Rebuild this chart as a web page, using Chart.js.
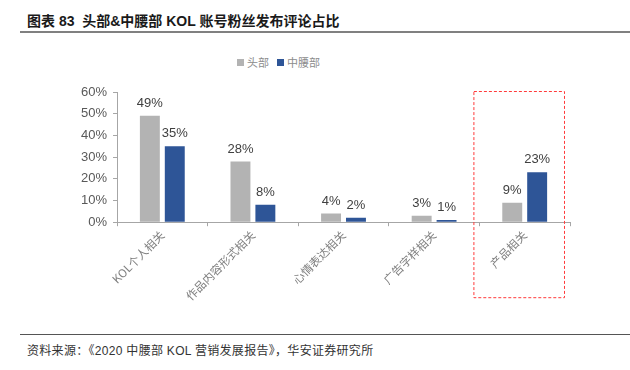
<!DOCTYPE html>
<html>
<head>
<meta charset="utf-8">
<script src="https://cdn.jsdelivr.net/npm/chart.js@4.4.1/dist/chart.umd.min.js"></script>
<style>
  body { margin: 0; background: #fff; font-family: "Liberation Sans", "Noto Sans CJK SC", sans-serif; }
  #page { position: relative; width: 630px; height: 370px; overflow: hidden; }
  #title { position: absolute; left: 27px; top: 10px; font-size: 14px; font-weight: bold; color: #1a1a1a; }
  .rule { position: absolute; left: 20px; width: 610px; background: #808080; }
  #source { position: absolute; left: 27px; top: 341px; font-size: 12px; color: #333; letter-spacing: 0.3px; }
  #legend { position: absolute; left: 237px; top: 54px; font-size: 11px; color: #8c8c8c; font-family: "Noto Sans CJK SC", sans-serif; white-space: nowrap; }
  #legend span.box { display: inline-block; width: 7px; height: 7px; margin-right: 3px; vertical-align: 1px; }
  #legend span.item { margin-right: 8px; }
  #chart-box { position: absolute; left: 0; top: 40px; width: 630px; height: 290px; }
</style>
</head>
<body>
<div id="page">
  <div id="title">图表 83&nbsp; 头部&amp;中腰部 KOL 账号粉丝发布评论占比</div>
  <div class="rule" style="top:31px;height:2px;"></div>
  <div id="legend"></div>
  <div id="chart-box"><canvas id="kol-chart"></canvas></div>
  <div class="rule" style="top:334px;height:1px;background:#555;"></div>
  <div id="source">资料来源：《2020 中腰部 KOL 营销发展报告》，华安证券研究所</div>
</div>
<script>
// Chart data
const categories = ['KOL个人相关', '作品内容形式相关', '心情表达相关', '广告字样相关', '产品相关'];
const headValues = [49, 28, 4, 3, 9];
const midValues = [35, 8, 2, 1, 23];
const seriesNames = ['头部', '中腰部'];
const yTicks = [0, 10, 20, 30, 40, 50, 60];

const GREY = '#b3b3b3';
const BLUE = '#2e5597';
const seriesColors = [GREY, BLUE];

// Legend sits left of centre in the original, so build it as html
document.getElementById('legend').innerHTML = seriesNames.map((name, i) =>
    `<span class="item"><span class="box" style="background:${seriesColors[i]}"></span>${name}</span>`
).join('');

// Draw the value above each bar
const valueLabels = {
    id: 'valueLabels',
    afterDatasetsDraw(chart) {
        const ctx = chart.ctx;
        ctx.save();
        ctx.font = '13px "Liberation Sans", Arial, sans-serif';
        ctx.fillStyle = '#404040';
        ctx.textAlign = 'center';
        ctx.textBaseline = 'bottom';
        chart.data.datasets.forEach((ds, i) => {
            chart.getDatasetMeta(i).data.forEach((bar, j) => {
                ctx.fillText(ds.data[j] + '%', bar.x, bar.y - 6);
            });
        });
        ctx.restore();
    }
};

// Red dashed box around the last category
const highlightBox = {
    id: 'highlightBox',
    afterDraw(chart) {
        const x = chart.scales.x;
        const y = chart.scales.y;
        const last = categories.length - 1;
        const half = (x.getPixelForValue(last) - x.getPixelForValue(last - 1)) / 2;
        const left = x.getPixelForValue(last) - half - 6;
        const right = x.getPixelForValue(last) + half - 6;
        const top = y.getPixelForValue(60) - 1;
        const bottom = chart.chartArea.bottom + 75;
        const ctx = chart.ctx;
        ctx.save();
        ctx.strokeStyle = '#ff3b3b';
        ctx.lineWidth = 1;
        ctx.setLineDash([3, 2]);
        ctx.strokeRect(left + 0.5, top + 0.5, right - left, bottom - top);
        ctx.restore();
    }
};

new Chart(document.getElementById('kol-chart'), {
    type: 'bar',
    data: {
        labels: categories,
        datasets: [
            { label: seriesNames[0], data: headValues, backgroundColor: GREY },
            { label: seriesNames[1], data: midValues, backgroundColor: BLUE }
        ]
    },
    options: {
        responsive: true,
        maintainAspectRatio: false,
        animation: false,
        categoryPercentage: 0.55,
        barPercentage: 0.8,
        layout: { padding: { left: 75, right: 60, top: 52, bottom: 25 } },
        plugins: {
            legend: { display: false },
            tooltip: { enabled: false }
        },
        scales: {
            x: {
                grid: { display: true, drawOnChartArea: false, tickLength: 4, color: '#a6a6a6', offset: true },
                border: { color: '#a6a6a6' },
                ticks: {
                    minRotation: 45,
                    maxRotation: 45,
                    color: '#808080',
                    padding: 2,
                    font: { size: 11.5, family: '"Noto Sans CJK SC", sans-serif' }
                }
            },
            y: {
                min: 0,
                max: 60,
                afterBuildTicks(axis) { axis.ticks = yTicks.map(v => ({ value: v })); },
                grid: { display: true, drawOnChartArea: false, tickLength: 4, color: '#a6a6a6' },
                border: { color: '#a6a6a6' },
                ticks: {
                    color: '#595959',
                    padding: 6,
                    font: { size: 13, family: '"Liberation Sans", Arial, sans-serif' },
                    callback: v => v + '%'
                }
            }
        }
    },
    plugins: [valueLabels, highlightBox]
});
</script>
</body>
</html>
